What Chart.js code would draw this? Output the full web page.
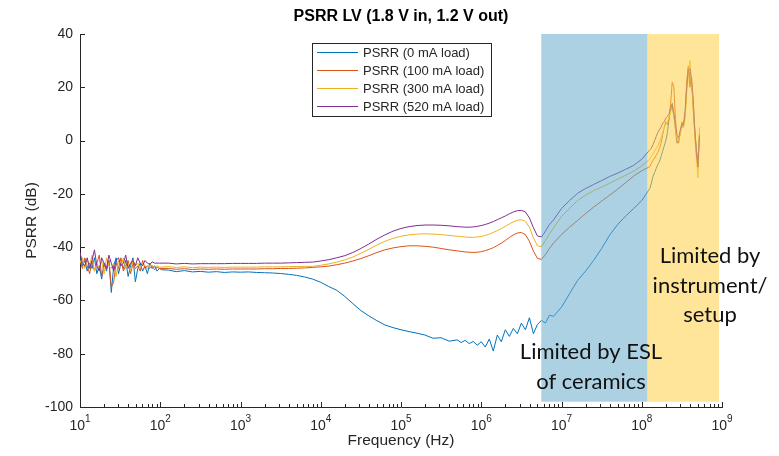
<!DOCTYPE html>
<html>
<head>
<meta charset="utf-8">
<script src="https://cdn.jsdelivr.net/npm/chart.js@4.4.1/dist/chart.umd.min.js"></script>
<style>
  html, body { margin: 0; padding: 0; background: #fff; }
</style>
</head>
<body>
<canvas id="psrr" width="779" height="456"></canvas>
<script>
// sample points, as log10(frequency in Hz)
const logFreq = [
  1.00, 1.03, 1.06, 1.09, 1.12, 1.15, 1.18, 1.21, 1.24, 1.27, 1.30, 1.33, 1.36, 1.39, 1.42, 1.45, 1.48, 1.51,
  1.54, 1.57, 1.60, 1.63, 1.66, 1.69, 1.72, 1.75, 1.78, 1.81, 1.84, 1.87, 1.90, 1.93, 1.96, 1.99, 2.02,
  2.1, 2.2, 2.3, 2.4, 2.5, 2.6, 2.7, 2.8, 2.9, 3.0, 3.1, 3.2, 3.3, 3.4, 3.5, 3.6, 3.7, 3.8, 3.9, 4.0,
  4.1, 4.2, 4.3, 4.4, 4.5, 4.6, 4.7, 4.8, 4.9, 5.0, 5.1, 5.2, 5.3, 5.4, 5.5, 5.6, 5.7,
  5.75, 5.80, 5.85, 5.90, 5.95, 6.00, 6.05, 6.10, 6.15, 6.20, 6.25, 6.30, 6.35, 6.40, 6.45, 6.50,
  6.55, 6.60, 6.65, 6.70, 6.75, 6.80, 6.85,
  6.9, 7.0, 7.1, 7.2, 7.3, 7.4, 7.5, 7.6, 7.7, 7.8, 7.9, 8.0, 8.1,
  8.12, 8.14, 8.16, 8.18, 8.20, 8.22, 8.24, 8.26, 8.28, 8.30, 8.32, 8.34, 8.36, 8.38, 8.40, 8.42,
  8.44, 8.46, 8.48, 8.50, 8.52, 8.54, 8.56, 8.58, 8.60, 8.62, 8.64, 8.66, 8.68, 8.70, 8.72
];

// PSRR in dB
const psrr0mA = [
  -44, -47, -45, -49, -46, -48, -44, -50, -47, -52, -46, -49, -45, -57, -47, -44, -50, -46,
  -48, -45, -51, -47, -44, -53, -48, -46, -49, -47, -50, -46, -48, -47, -49, -48, -48.5,
  -48.6, -49.2, -48.8, -49.3, -49.1, -49.4, -49.2, -49.5, -49.3, -49.4, -49.3, -49.5, -49.6, -49.7, -49.9, -50.2, -50.6, -51.2, -52, -53.2,
  -54.8, -56.2, -58.5, -61.2, -63.8, -65.8, -67.6, -69.2, -70.2, -71, -71.7, -72.3, -73, -74.2, -74, -75.3, -74.8,
  -75.8, -75, -76.2, -75.4, -76.8, -75.5, -77.5, -74.5, -79, -73, -75.5, -71, -73.5, -70.5, -72.5, -68.5,
  -71, -66.5, -72.5, -69, -67.5, -68.5, -65.5,
  -66, -62.5, -57.5, -52.5, -49, -45, -40.5, -35.5, -31.5, -28.3, -25.5, -22.5, -18,
  -16, -13.5, -12, -10.5, -9, -8, -6, -4, -2, 0, 3, 8, 12, 14, 10, 4,
  -1, 0, 3, 6, 5, 10, 20, 27, 24, 21, 15, 5, -3, -8, 2
];
const psrr100mA = [
  -45, -48, -44, -47, -50, -45, -49, -46, -43, -51, -47, -48, -45, -55, -53, -46, -48, -44,
  -49, -47, -45, -50, -46, -48, -47, -49, -45, -48, -47, -48, -47, -48.5, -47.5, -48, -48,
  -48, -48.3, -48.1, -48.4, -48.2, -48.3, -48.2, -48.3, -48.2, -48.2, -48.2, -48.2, -48.1, -48.1, -48, -48, -47.9, -47.8, -47.6, -47.4,
  -47.1, -46.6, -46, -45.2, -44.3, -43.2, -42, -41, -40.3, -39.8, -39.5, -39.5, -39.7, -40, -40.5, -41, -41.4,
  -41.6, -41.8, -41.9, -42, -41.9, -41.7, -41.3, -40.8, -40.2, -39.4, -38.5, -37.5, -36.4, -35.4, -34.7, -34.5,
  -35.3, -37.8, -41.5, -44.2, -44.6, -42.8, -40.5,
  -38.5, -35.3, -32.5, -30, -27.4, -25, -22.7, -20.5, -18.2, -15.8, -13.3, -11.3, -9.8,
  -8.5, -7.5, -6.5, -5.5, -4.5, -3, -1, 2, 5, 7, 6, 8, 14, 22, 20, 8,
  0, -1, 3, 7, 6, 9, 22, 28, 20, 24, 12, 3, -5, -9, 3
];
const psrr300mA = [
  -46, -44, -48, -45, -47, -43, -49, -46, -48, -45, -50, -44, -47, -48, -46, -51, -45, -47,
  -44, -48, -46, -49, -45, -47, -46, -48, -46, -47, -48, -46.5, -47, -47.5, -47, -47.5, -47.5,
  -47.3, -47.6, -47.4, -47.7, -47.5, -47.6, -47.5, -47.6, -47.5, -47.5, -47.5, -47.5, -47.4, -47.4, -47.4, -47.3, -47.3, -47.2, -47.2, -46.8,
  -46.3, -45.6, -44.8, -43.7, -42.3, -40.8, -39.2, -37.8, -36.7, -35.9, -35.4, -35.1, -35, -35.1, -35.3, -35.6, -35.9,
  -36, -36.2, -36.3, -36.3, -36.2, -36, -35.6, -35.1, -34.5, -33.8, -33, -32.2, -31.3, -30.5, -29.9, -29.7,
  -30.3, -32.5, -36.5, -39.5, -39.8, -37.5, -35,
  -32.8, -28.5, -25.5, -22.5, -20.5, -18.8, -17.5, -16, -14.5, -13, -11.5, -9.5, -7,
  -6, -5, -4, -3, -2, -0.5, 1, 3, 5, 6, 7, 9, 11, 12, 9, 5,
  1, 0, 3, 5, 5, 8, 18, 24, 30, 22, 15, 2, -6, -14, 5
];
const psrr520mA = [
  -42, -46, -47, -44, -48, -45, -41, -47, -49, -44, -46, -48, -43, -46, -49, -45, -44, -47,
  -46, -43, -48, -46, -45, -47, -44, -46, -47, -45, -46, -46.5, -45.5, -46, -46, -46, -46,
  -46, -46.3, -46.1, -46.3, -46.2, -46.2, -46.2, -46.2, -46.1, -46.1, -46.1, -46.1, -46, -46, -46, -45.9, -45.8, -45.7, -45.6, -45.2,
  -44.7, -44, -43.2, -42, -40.5, -38.8, -37, -35.4, -34, -33, -32.3, -31.9, -31.7, -31.7, -31.8, -32, -32.3,
  -32.4, -32.5, -32.5, -32.4, -32.2, -31.9, -31.5, -31, -30.4, -29.7, -29, -28.3, -27.5, -26.8, -26.3, -26.2,
  -26.8, -29, -32.7, -35.8, -36.2, -34, -31.5,
  -29.8, -25.5, -22.5, -19.8, -18, -16.5, -15, -13.5, -12.2, -10.8, -9.3, -7, -3.5,
  -3, -1.5, 0, 1.5, 3, 4, 5, 6.5, 7, 8.5, 9, 10, 12, 13, 10, 6,
  2, 1, 4, 6, 6, 11, 20, 26, 27, 23, 16, 4, -4, -10, 2
];

const seriesLabels = ['PSRR (0 mA load)', 'PSRR (100 mA load)', 'PSRR (300 mA load)', 'PSRR (520 mA load)'];
const seriesValues = [psrr0mA, psrr100mA, psrr300mA, psrr520mA];
const seriesColors = ['#0072BD', '#D95319', '#EDB120', '#7E2F8E'];

const yTicks = [-100, -80, -60, -40, -20, 0, 20, 40];
const xTickExps = [1, 2, 3, 4, 5, 6, 7, 8, 9];

// shaded regions (Hz) and their floor (dB)
const bandEdges = [[5.6e6, 1.18e8], [1.18e8, 9.2e8]];
const bandFloor = -98;
const bandColors = ['rgba(102,171,204,0.55)', 'rgba(255,208,70,0.55)'];

const notes = [
  { f: 2.33e7, db: -79.4, lines: ['Limited by ESL', 'of ceramics'] },
  { f: 7.1e8, db: -43.3, lines: ['Limited by', 'instrument/', 'setup'] }
];

const FONT = "'Liberation Sans', Arial, Helvetica, sans-serif";
const INK = '#262626';

const bands = {
  id: 'bands',
  afterDatasetsDraw(chart) {
    const { ctx, scales: { x, y } } = chart;
    ctx.save();
    bandEdges.forEach(([f0, f1], i) => {
      const x0 = x.getPixelForValue(f0), x1 = x.getPixelForValue(f1);
      const yt = y.getPixelForValue(40), yb = y.getPixelForValue(bandFloor);
      ctx.fillStyle = bandColors[i];
      ctx.fillRect(x0, yt, x1 - x0, yb - yt);
    });
    ctx.restore();
  }
};

const decorations = {
  id: 'decorations',
  afterDraw(chart) {
    const { ctx, chartArea: a, scales: { x, y } } = chart;
    ctx.save();

    // inward ticks
    ctx.strokeStyle = INK;
    ctx.lineWidth = 1;
    ctx.beginPath();
    yTicks.forEach(v => {
      const py = Math.round(y.getPixelForValue(v)) + 0.5;
      ctx.moveTo(a.left, py);
      ctx.lineTo(a.left + 5, py);
    });
    xTickExps.forEach(e => {
      const px = Math.round(x.getPixelForValue(10 ** e)) + 0.5;
      ctx.moveTo(px, a.bottom);
      ctx.lineTo(px, a.bottom - 5);
      if (e < 9) {
        for (let k = 2; k < 10; k++) {
          const mx = Math.round(x.getPixelForValue(k * 10 ** e)) + 0.5;
          ctx.moveTo(mx, a.bottom);
          ctx.lineTo(mx, a.bottom - 3);
        }
      }
    });
    ctx.stroke();

    // x tick labels 10^n
    ctx.fillStyle = INK;
    ctx.textBaseline = 'alphabetic';
    ctx.textAlign = 'left';
    xTickExps.forEach(e => {
      const px = x.getPixelForValue(10 ** e);
      ctx.font = '14px ' + FONT;
      const w1 = ctx.measureText('10').width;
      ctx.font = '10px ' + FONT;
      const w2 = ctx.measureText(String(e)).width;
      const x0 = px - (w1 + w2) / 2;
      ctx.font = '14px ' + FONT;
      ctx.fillText('10', x0, a.bottom + 23);
      ctx.font = '10px ' + FONT;
      ctx.fillText(String(e), x0 + w1, a.bottom + 15);
    });

    // title
    ctx.fillStyle = '#000';
    ctx.font = 'bold 16px ' + FONT;
    ctx.textAlign = 'center';
    ctx.textBaseline = 'middle';
    ctx.fillText('PSRR LV (1.8 V in, 1.2 V out)', (a.left + a.right) / 2, 17);

    // legend box
    const lx = a.left + 232, ly = a.top + 9, lw = 179, lh = 73;
    ctx.fillStyle = '#fff';
    ctx.fillRect(lx, ly, lw, lh);
    ctx.strokeStyle = INK;
    ctx.strokeRect(lx + 0.5, ly + 0.5, lw, lh);
    ctx.font = '13px ' + FONT;
    ctx.textAlign = 'left';
    chart.data.datasets.forEach((ds, i) => {
      const ry = Math.round(ly + 9 + i * 18) + 0.5;
      ctx.strokeStyle = ds.borderColor;
      ctx.beginPath();
      ctx.moveTo(lx + 5, ry);
      ctx.lineTo(lx + 46, ry);
      ctx.stroke();
      ctx.fillStyle = INK;
      ctx.fillText(ds.label, lx + 51, ry + 0.5);
    });

    // annotations
    ctx.fillStyle = '#111';
    ctx.font = '22px Lato, Carlito, sans-serif';
    ctx.textAlign = 'center';
    notes.forEach(n => {
      const cx = x.getPixelForValue(n.f), cy = y.getPixelForValue(n.db);
      n.lines.forEach((t, i) => ctx.fillText(t, cx, cy + i * 29.5));
    });

    ctx.restore();
  }
};

new Chart(document.getElementById('psrr'), {
  type: 'line',
  data: {
    datasets: seriesLabels.map((label, i) => ({
      label,
      data: logFreq.map((e, j) => ({ x: 10 ** e, y: seriesValues[i][j] })),
      borderColor: seriesColors[i],
      borderWidth: 1,
      pointRadius: 0,
      tension: 0,
      order: 3 - i
    }))
  },
  options: {
    responsive: false,
    animation: false,
    devicePixelRatio: 1,
    layout: { padding: { top: 34, right: 57, bottom: 0, left: 0 } },
    plugins: { legend: { display: false }, title: { display: false }, tooltip: { enabled: false } },
    scales: {
      x: {
        type: 'logarithmic',
        min: 10,
        max: 1e9,
        ticks: { display: false },
        grid: { display: false, drawTicks: false },
        border: { color: INK },
        title: { display: true, text: 'Frequency (Hz)', color: INK, font: { family: FONT, size: 15.5 }, padding: { top: 0, bottom: 6 } },
        afterFit: s => { s.height = 49; }
      },
      y: {
        min: -100,
        max: 40,
        afterBuildTicks: s => { s.ticks = yTicks.map(v => ({ value: v })); },
        ticks: { color: INK, font: { family: FONT, size: 14 }, padding: 7 },
        grid: { display: false, drawTicks: false },
        border: { color: INK },
        title: { display: true, text: 'PSRR (dB)', color: INK, font: { family: FONT, size: 15.5 }, padding: { top: 22, bottom: 0 } },
        afterFit: s => { s.width = 80; }
      }
    }
  },
  plugins: [bands, decorations]
});
</script>
</body>
</html>
